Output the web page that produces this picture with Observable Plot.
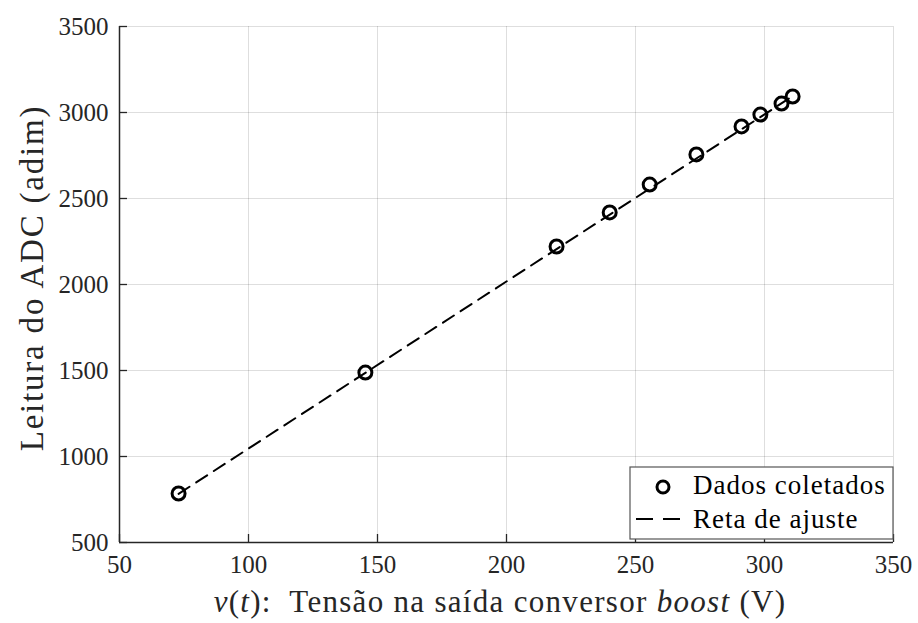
<!DOCTYPE html>
<html>
<head>
<meta charset="utf-8">
<script src="https://cdn.jsdelivr.net/npm/d3@7"></script>
<script src="https://cdn.jsdelivr.net/npm/@observablehq/plot@0.6"></script>
<style>
  html, body { margin: 0; padding: 0; background: #fff; }
  #chart { width: 918px; height: 623px; }
</style>
</head>
<body>
<div id="chart"></div>
<script>
// Measured data (tensão de saída em V, leitura ADC adimensional)
const tensao = [72.9, 145.3, 219.4, 240.0, 255.5, 273.6, 291.1, 298.4, 306.6, 310.9];
const leitura = [785, 1488, 2221, 2419, 2581, 2756, 2919, 2988, 3052, 3093];
// Fitted line endpoints
const ajusteX = [72.9, 310.9];
const ajusteY = [783, 3095];
// Tick labels
const xTicks = [50, 100, 150, 200, 250, 300, 350];
const yTicks = [500, 1000, 1500, 2000, 2500, 3000, 3500];
// Legend entries
const legendLabels = ["Dados coletados", "Reta de ajuste"];

const dados = tensao.map((v, i) => ({x: v, y: leitura[i]}));
const ajuste = ajusteX.map((v, i) => ({x: v, y: ajusteY[i]}));

const FONT = "'Liberation Serif', 'Times New Roman', serif";
const INK = "#262626";

const svg = Plot.plot({
  width: 918,
  height: 623,
  marginLeft: 119,
  marginRight: 25,
  marginTop: 26,
  marginBottom: 81,
  style: {fontFamily: FONT, background: "#fff", color: INK, overflow: "visible"},
  x: {domain: [50, 350]},
  y: {domain: [500, 3500]},
  marks: [
    Plot.gridX(xTicks, {stroke: "#000", strokeOpacity: 0.13, strokeWidth: 1}),
    Plot.gridY(yTicks, {stroke: "#000", strokeOpacity: 0.13, strokeWidth: 1}),
    // inward tick marks
    Plot.ruleX(xTicks, {x: d => d, y1: 3500, y2: 500, insetTop: 508, stroke: INK, strokeWidth: 1.3}),
    Plot.ruleY(yTicks, {y: d => d, x1: 50, x2: 350, insetRight: 766, stroke: INK, strokeWidth: 1.3}),
    Plot.axisX({ticks: xTicks, tickSize: 0, tickPadding: 13, tickFormat: d => String(d), fontSize: 25, fill: INK, label: null, style: {letterSpacing: "1px"}}),
    Plot.axisY({ticks: yTicks, tickSize: 0, tickPadding: 11, tickFormat: d => String(d), fontSize: 25, fill: INK, label: null, style: {letterSpacing: "1px"}}),
    Plot.ruleX([50], {stroke: INK, strokeWidth: 1.5}),
    Plot.ruleY([500], {stroke: INK, strokeWidth: 1.5}),
    Plot.line(ajuste, {x: "x", y: "y", stroke: "#000", strokeWidth: 2, strokeDasharray: "13,8"}),
    Plot.dot(dados, {x: "x", y: "y", r: 6.5, stroke: "#000", strokeWidth: 3, fill: "none"})
  ]
});

const s = d3.select(svg);

// X axis label
const xl = s.append("text")
  .attr("x", 500).attr("y", 612)
  .attr("text-anchor", "middle")
  .attr("font-family", FONT).attr("font-size", 31)
  .attr("letter-spacing", "1.3px")
  .attr("fill", INK);
xl.append("tspan").attr("font-style", "italic").text("v");
xl.append("tspan").text("(");
xl.append("tspan").attr("font-style", "italic").text("t");
xl.append("tspan").text("):  Tensão na saída conversor ");
xl.append("tspan").attr("font-style", "italic").text("boost");
xl.append("tspan").text(" (V)");

// Y axis label
s.append("text")
  .attr("transform", "translate(43,278) rotate(-90)")
  .attr("text-anchor", "middle")
  .attr("font-family", FONT).attr("font-size", 33)
  .attr("letter-spacing", "1.8px")
  .attr("fill", INK)
  .text("Leitura do ADC (adim)");

// Legend
const lg = s.append("g").attr("text-anchor", "start");
lg.append("rect").attr("x", 630).attr("y", 467).attr("width", 263).attr("height", 72)
  .attr("fill", "#fff").attr("stroke", "#555").attr("stroke-width", 1.2);
lg.append("circle").attr("cx", 663).attr("cy", 487).attr("r", 6)
  .attr("fill", "none").attr("stroke", "#000").attr("stroke-width", 3);
lg.append("line").attr("x1", 636).attr("x2", 681).attr("y1", 519).attr("y2", 519)
  .attr("stroke", "#000").attr("stroke-width", 2).attr("stroke-dasharray", "17,10");
lg.selectAll("text.leg").data(legendLabels).join("text")
  .attr("class", "leg")
  .attr("x", 693).attr("y", (d, i) => i === 0 ? 494 : 528)
  .attr("text-anchor", "start")
  .attr("font-family", FONT).attr("font-size", 27)
  .attr("letter-spacing", "1px")
  .attr("fill", "#000")
  .text(d => d);

document.getElementById("chart").appendChild(svg);
</script>
</body>
</html>
